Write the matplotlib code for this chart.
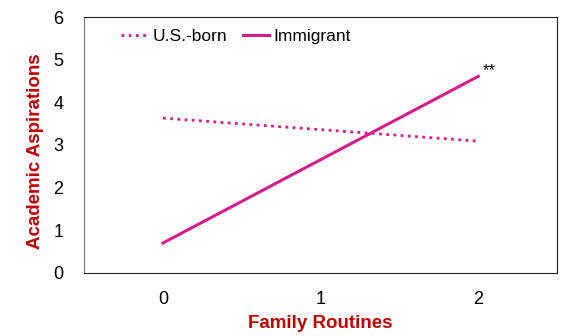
import matplotlib.pyplot as plt

plt.rcParams["font.family"] = ["Liberation Sans", "DejaVu Sans"]

routines = [0, 2]
us_born = [3.63, 3.09]
immigrant = [0.70, 4.61]

pink = "#D81B8C"
red = "#C00000"

fig = plt.figure(figsize=(5.61, 3.36), dpi=100)
ax = fig.add_axes([0.150, 0.188, 0.843, 0.761])

ax.plot(routines, us_born, color=pink, linestyle=(0, (1, 1.6)), linewidth=2, label="U.S.-born")
ax.plot(routines, immigrant, color=pink, linewidth=2.2, label="Immigrant")
ax.text(2.03, immigrant[1] - 0.05, "**", fontsize=12, va="bottom", ha="left")

ax.set_xlim(-0.5, 2.5)
ax.set_ylim(0, 6)
ax.set_xticks([0, 1, 2])
ax.set_yticks(range(7))
ax.tick_params(length=0, labelsize=13)
ax.tick_params(axis="y", pad=15)
ax.tick_params(axis="x", pad=13)

for side in ["top", "right", "bottom"]:
    ax.spines[side].set_color("#222222")
ax.spines["left"].set_color("#777777")

ax.set_xlabel("Family Routines", color=red, fontweight="bold", fontsize=13.5, labelpad=5)
ax.set_ylabel("Academic Aspirations", color=red, fontweight="bold", fontsize=13.5)
ax.yaxis.set_label_coords(-0.085, 0.475)

ax.legend(loc="upper left", frameon=False, fontsize=12.5, ncol=2, handlelength=1.5,
          columnspacing=0.9, handletextpad=0.3, bbox_to_anchor=(0.045, 1.015))

fig.savefig("out.png", dpi=100)
